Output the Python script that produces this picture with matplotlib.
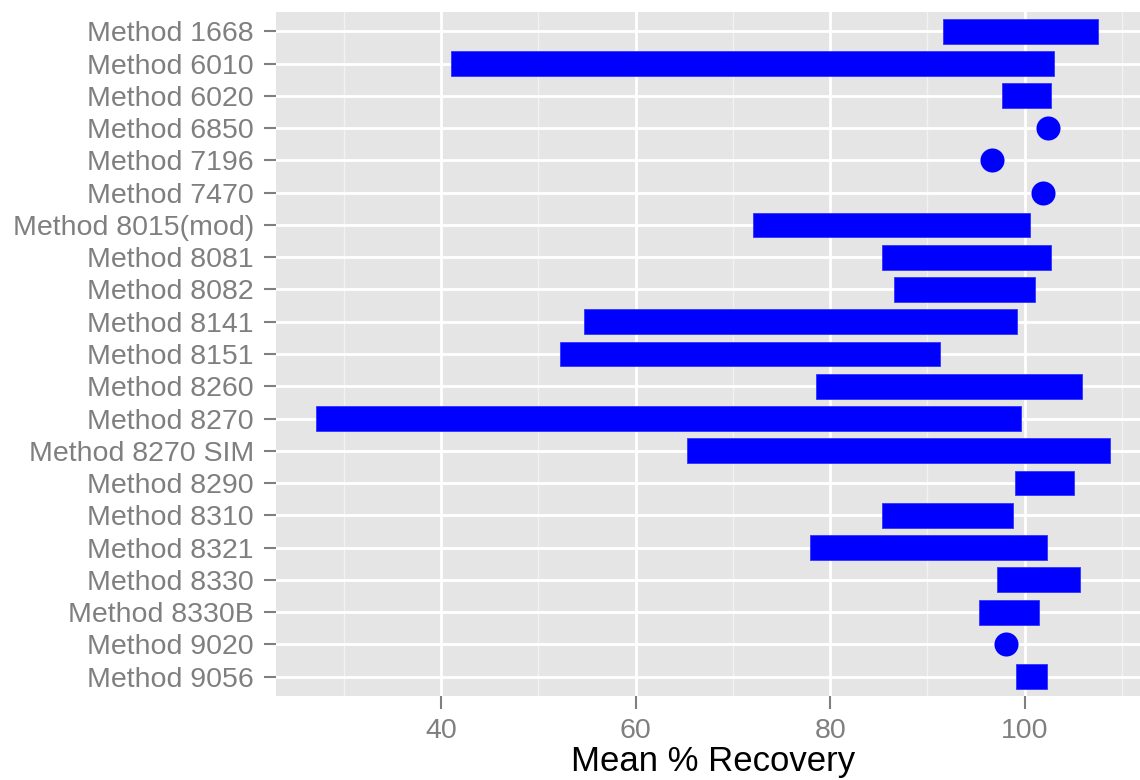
import numpy as np
import matplotlib
matplotlib.use('Agg')
import matplotlib.pyplot as plt

plt.rcParams['font.family'] = ['Liberation Sans', 'DejaVu Sans']

# Data (low / high of mean % recovery per method)
methods = ['Method 1668', 'Method 6010', 'Method 6020', 'Method 6850', 'Method 7196',
           'Method 7470', 'Method 8015(mod)', 'Method 8081', 'Method 8082', 'Method 8141',
           'Method 8151', 'Method 8260', 'Method 8270', 'Method 8270 SIM', 'Method 8290',
           'Method 8310', 'Method 8321', 'Method 8330', 'Method 8330B', 'Method 9020',
           'Method 9056']
low = [91.6, 41.0, 97.7, 102.4, 96.6, 101.9, 72.1, 85.3, 86.6, 54.7,
       52.2, 78.5, 27.1, 65.3, 99.0, 85.3, 77.9, 97.2, 95.3, 98.1, 99.1]
high = [107.6, 103.05, 102.7, 102.4, 96.6, 101.9, 100.6, 102.7, 101.1, 99.25,
        91.3, 105.9, 99.6, 108.8, 105.1, 98.8, 102.3, 105.65, 101.5, 98.1, 102.3]
xticks = [40, 60, 80, 100]
minor_ticks = [30, 50, 70, 90, 110]

low = np.array(low)
high = np.array(high)
ypos = np.arange(len(methods))
is_range = high > low

fig = plt.figure(figsize=(11.4, 7.8), dpi=100)
ax = fig.add_axes([276 / 1140, 1 - 696 / 780, (1150 - 276) / 1140, (696 - 12) / 780])

ax.set_facecolor('#E5E5E5')
for s in ax.spines.values():
    s.set_visible(False)

# grid
for v in minor_ticks:
    ax.axvline(v, color='#F2F2F2', lw=1.0, zorder=0.5)
for v in xticks:
    ax.axvline(v, color='white', lw=2.0, zorder=0.6)
for y in ypos:
    ax.axhline(y, color='white', lw=2.0, zorder=0.6)

ax.barh(ypos[is_range], high[is_range] - low[is_range], left=low[is_range],
        height=0.77, color='#0000FF', edgecolor='#3333FF', linewidth=0.6, zorder=2)
ax.scatter(low[~is_range], ypos[~is_range], s=300, color='#0000FF', zorder=3,
           linewidths=0)

ax.set_xlim(23.0, 112.9)
ax.set_ylim(len(methods) - 0.4, -0.6)
ax.set_xticks(xticks)
ax.set_yticks(ypos)
ax.set_yticklabels(methods)

ax.tick_params(axis='both', colors='#7F7F7F', labelsize=20.5, length=9, width=1.5)
ax.tick_params(axis='y', pad=7)
ax.tick_params(axis='x', pad=7)
for lab in ax.get_xticklabels() + ax.get_yticklabels():
    lab.set_color('#7F7F7F')

ax.set_xlabel('Mean % Recovery', fontsize=25, color='black', labelpad=0.5)

fig.savefig('out.png', dpi=100)
